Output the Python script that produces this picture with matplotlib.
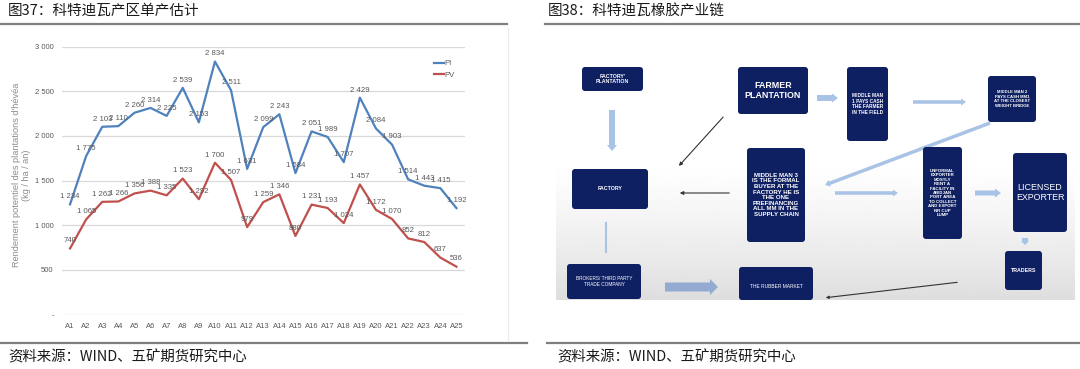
import numpy as np
import matplotlib
matplotlib.use("Agg")
import matplotlib.pyplot as plt
from matplotlib.patches import FancyBboxPatch, FancyArrow

plt.rcParams['font.family'] = ['Noto Sans CJK SC', 'DejaVu Sans']

# ============================================================
# Data
# ============================================================
categories = [f"A{i}" for i in range(1, 26)]
pi_values = [1234, 1775, 2103, 2110, 2260, 2314, 2225, 2539, 2153, 2834,
             2511, 1631, 2099, 2243, 1584, 2051, 1989, 1707, 2429, 2084,
             1903, 1514, 1443, 1415, 1192]
pv_values = [740, 1065, 1262, 1266, 1356, 1388, 1335, 1523, 1292, 1700,
             1507, 979, 1259, 1346, 880, 1231, 1193, 1024, 1457, 1172,
             1070, 852, 812, 637, 536]
y_ticks = [0, 500, 1000, 1500, 2000, 2500, 3000]
y_ticklabels = ["-", "500", "1 000", "1 500", "2 000", "2 500", "3 000"]

title_left = "图37：科特迪瓦产区单产估计"
title_right = "图38：科特迪瓦橡胶产业链"
source = "资料来源：WIND、五矿期货研究中心"

W, H = 1080, 369
fig = plt.figure(figsize=(W / 100, H / 100), dpi=100)

# overlay in pixel coordinates for titles, rules and the flowchart
ov = fig.add_axes([0, 0, 1, 1])
ov.set_xlim(0, W)
ov.set_ylim(H, 0)
ov.axis('off')

# ── Titles, rules, sources ───────────────────────────────
ov.text(8, 11, title_left, fontsize=10.5, va='center', ha='left', color='#1a1a1a')
ov.text(548, 11, title_right, fontsize=10.5, va='center', ha='left', color='#1a1a1a')
ov.plot([0, 507], [24, 24], color='#7f7f7f', lw=1.6)
ov.plot([545, 1080], [24, 24], color='#7f7f7f', lw=1.6)
ov.plot([0, 527], [343, 343], color='#7f7f7f', lw=1.6)
ov.plot([547, 1080], [343, 343], color='#7f7f7f', lw=1.6)
ov.text(8, 357, source, fontsize=10.4, va='center', ha='left', color='#1a1a1a')
ov.text(557, 357, source, fontsize=10.4, va='center', ha='left', color='#1a1a1a')
ov.plot([508, 508], [28, 340], color='#ececec', lw=0.8)

# ── Left: line chart ─────────────────────────────────────
ax = fig.add_axes([62 / W, 54.5 / H, 402.5 / W, 267.8 / H])
ax.patch.set_alpha(0)
x = np.arange(len(categories))
num_font = ['Liberation Sans', 'DejaVu Sans']
ln_pi, = ax.plot(x, pi_values, color='#4f81bd', lw=1.6, label='PI')
ln_pv, = ax.plot(x, pv_values, color='#c0504d', lw=1.6, label='PV')
for xi, v in zip(x, pi_values):
    ax.annotate(f"{v:,}".replace(",", " "), (xi, v), xytext=(0, 3),
                textcoords='offset points', ha='center', va='bottom',
                fontsize=5.6, color='#595959', family=num_font)
for xi, v in zip(x, pv_values):
    ax.annotate(f"{v:,}".replace(",", " "), (xi, v), xytext=(0, 3),
                textcoords='offset points', ha='center', va='bottom',
                fontsize=5.6, color='#595959', family=num_font)
ax.set_xlim(-0.5, len(categories) - 0.5)
ax.set_ylim(0, 3000)
ax.set_yticks(y_ticks)
ax.set_yticklabels(y_ticklabels, family=num_font, fontsize=5.5, color='#595959')
ax.set_xticks(x)
ax.set_xticklabels(categories, family=num_font, fontsize=5.5, color='#595959')
ax.tick_params(length=0, pad=6)
ax.grid(axis='y', color='#d9d9d9', lw=0.9)
ax.set_axisbelow(True)
for s in ax.spines.values():
    s.set_visible(False)
ax.set_ylabel("Rendement potentiel des plantations d'hévéa\n(kg / ha / an)",
              family=num_font, fontsize=6.6, color='#8c8c8c',
              linespacing=1.15)
ax.yaxis.set_label_coords(-0.077, 0.52)
ax.legend(handles=[ln_pi, ln_pv], loc='upper left',
          bbox_to_anchor=(427 / W, 1 - 53 / H), bbox_transform=fig.transFigure,
          frameon=False, handlelength=1.3, handletextpad=0.1, labelspacing=0.6,
          prop={'family': num_font, 'size': 5.5}, labelcolor='#595959')

# ── Right: flowchart image ───────────────────────────────
x0, x1, y0, y1 = 556, 1075, 42, 300
grad = np.linspace(0, 1, 200)
shade = 1.0 - 0.13 * np.clip((grad - 0.45) / 0.55, 0, 1) ** 1.3
img = np.repeat(shade[:, None], 10, axis=1)
ov.imshow(img, cmap='gray', vmin=0, vmax=1, extent=[x0, x1, y1, y0],
          aspect='auto', zorder=0)
ov.set_xlim(0, W)
ov.set_ylim(H, 0)

navy = '#0f2062'
light = '#a9c3e6'


def box(xa, ya, w, h, text, fs=3.6, weight='bold'):
    ov.add_patch(FancyBboxPatch((xa, ya), w, h,
                                boxstyle='round,pad=0,rounding_size=3',
                                fc=navy, ec='none', zorder=3))
    ov.text(xa + w / 2, ya + h / 2, text, color='white', fontsize=fs,
            fontweight=weight, ha='center', va='center', zorder=4,
            family=['Liberation Sans', 'DejaVu Sans'], linespacing=1.15)


box(582, 67, 61, 24, "FACTORY'\nPLANTATION", fs=3.8)
box(738, 67, 70, 47, "FARMER\nPLANTATION", fs=6.4)
box(572, 169, 76, 40, "FACTORY", fs=3.8)
box(747, 148, 58, 94, "MIDDLE MAN 3\nIS THE FORMAL\nBUYER AT THE\nFACTORY HE IS\nTHE ONE\nPREFINANCING\nALL MM IN THE\nSUPPLY CHAIN", fs=4.4)
box(847, 67, 41, 74, "MIDDLE MAN\n1 PAYS CASH\nTHE FARMER\nIN THE FIELD", fs=3.4)
box(988, 76, 48, 46, "MIDDLE MAN 2\nPAYS CASH MM1\nAT THE CLOSEST\nWEIGHT BRIDGE", fs=3.1)
box(923, 147, 39, 92, "UNFORMAL\nEXPORTER\nMOSTLY\nRENT A\nFACILITY IN\nABIDJAN\nPORT AREA\nTO COLLECT\nAND EXPORT\nNR CUP\nLUMP", fs=3.2)
box(1013, 153, 54, 79, "LICENSED\nEXPORTER", fs=6.4, weight='normal')
box(1005, 251, 37, 39, "TRADERS", fs=3.8)
box(567, 264, 74, 35, "BROKERS/ THIRD PARTY\nTRADE COMPANY", fs=3.4, weight='normal')
box(739, 267, 74, 33, "\nTHE RUBBER MARKET", fs=3.5, weight='normal')


def fat(xs, ys, dx, dy, w, hw, hl, color=light):
    ov.add_patch(FancyArrow(xs, ys, dx, dy, width=w, head_width=hw,
                            head_length=hl, length_includes_head=True,
                            fc=color, ec='none', zorder=2))


fat(612, 110, 0, 41, 6, 10, 6)
fat(817, 98, 21, 0, 6, 9, 6)
fat(913, 102, 53, 0, 3.5, 7, 5)
fat(835, 193, 63, 0, 3.5, 7, 5)
fat(975, 193, 26, 0, 5, 9, 6)
fat(1025, 238, 0, 7, 6, 8, 4)
fat(665, 287, 53, 0, 9, 16, 8, color='#93abd0')
fat(990, 123, -165, 62, 3.5, 7, 5)
ov.plot([606, 606], [223, 252], color=light, lw=1.5, zorder=2)

# thin black arrows
ov.annotate('', xy=(677, 168), xytext=(725, 115),
            arrowprops=dict(arrowstyle='-|>', color='#333333', lw=0.8,
                            mutation_scale=5), zorder=2)
ov.annotate('', xy=(677, 193), xytext=(732, 193),
            arrowprops=dict(arrowstyle='-|>', color='#333333', lw=0.8,
                            mutation_scale=5), zorder=2)
ov.annotate('', xy=(823, 298), xytext=(960, 282),
            arrowprops=dict(arrowstyle='-|>', color='#333333', lw=0.8,
                            mutation_scale=4), zorder=2)

fig.savefig('out.png', dpi=100)
